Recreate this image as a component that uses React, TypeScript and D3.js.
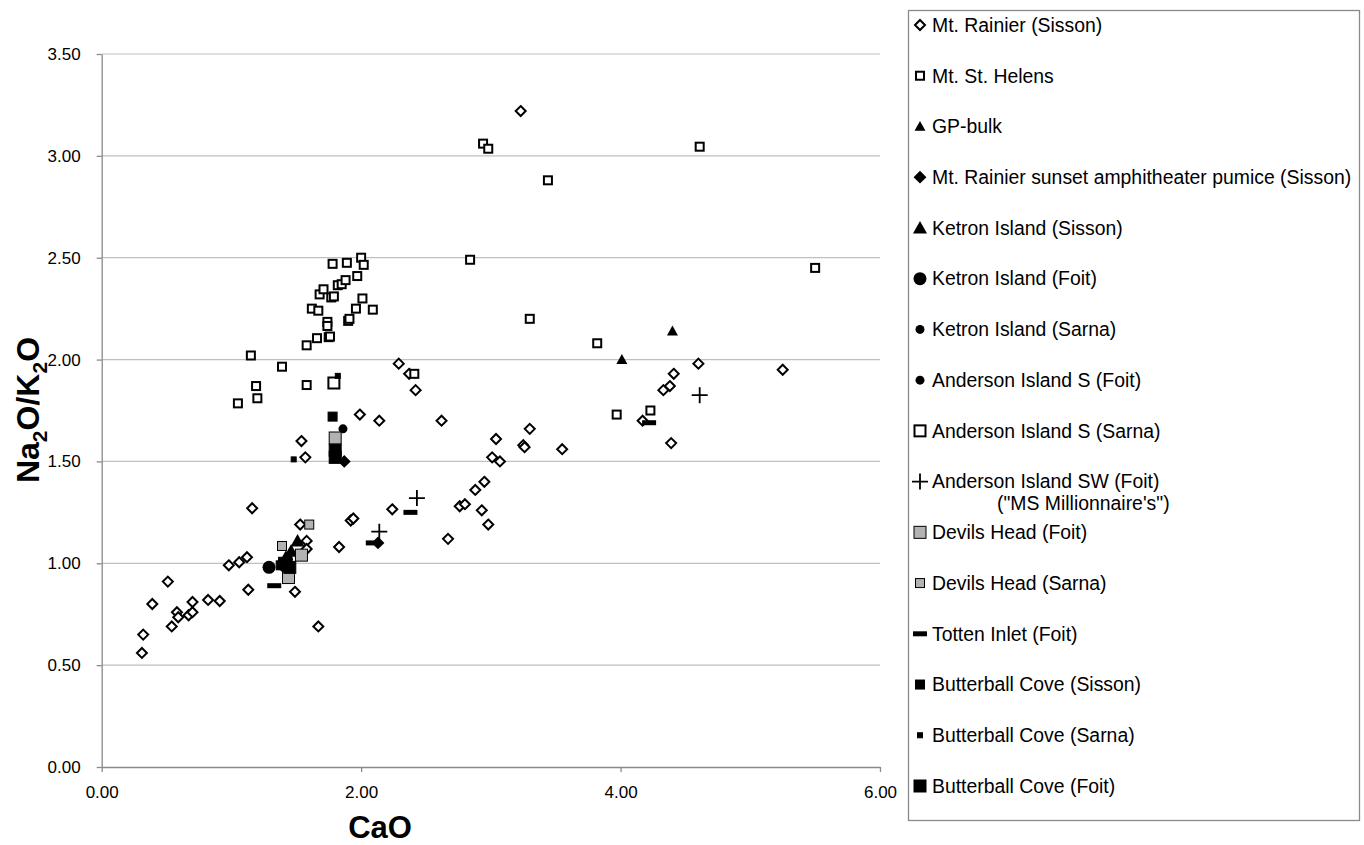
import React, { useEffect, useRef } from "react";
import * as d3 from "d3";

// CaO vs Na2O/K2O, one array of [CaO, ratio] pairs per series
const rainierSisson = [
  [0.31, 0.56], [0.32, 0.65], [0.39, 0.8], [0.51, 0.91], [0.54, 0.69], [0.58, 0.76],
  [0.59, 0.735], [0.67, 0.745], [0.7, 0.76], [0.7, 0.81], [0.82, 0.82], [0.91, 0.815],
  [0.98, 0.99], [1.06, 1.005], [1.12, 1.03], [1.13, 0.87], [1.16, 1.27], [1.53, 1.19],
  [1.49, 0.86], [1.58, 1.11], [1.58, 1.07], [1.54, 1.6], [1.57, 1.52], [1.67, 0.69],
  [1.83, 1.08], [1.92, 1.21], [1.94, 1.22], [1.99, 1.73], [2.14, 1.7], [2.24, 1.265],
  [2.29, 1.98], [2.37, 1.93], [2.42, 1.85], [2.62, 1.7], [2.67, 1.12], [2.76, 1.28],
  [2.8, 1.29], [2.88, 1.36], [2.95, 1.4], [2.93, 1.26], [2.98, 1.19], [3.01, 1.52],
  [3.04, 1.61], [3.07, 1.5], [3.25, 1.58], [3.26, 1.57], [3.3, 1.66], [3.55, 1.56],
  [3.23, 3.22], [4.17, 1.7], [4.33, 1.85], [4.38, 1.87], [4.41, 1.93], [4.39, 1.59],
  [4.6, 1.98], [5.25, 1.95],
];
const stHelens = [
  [1.05, 1.785], [1.15, 2.02], [1.19, 1.87], [1.2, 1.81], [1.39, 1.965], [1.58, 1.875],
  [1.58, 2.07], [1.62, 2.25], [1.66, 2.105], [1.67, 2.24], [1.68, 2.32], [1.71, 2.345],
  [1.74, 2.185], [1.74, 2.165], [1.75, 2.11], [1.76, 2.113], [1.77, 2.305], [1.79, 2.31],
  [1.78, 2.47], [1.82, 2.365], [1.85, 2.37], [1.88, 2.39], [1.89, 2.475], [1.9, 2.19],
  [1.91, 2.2], [1.96, 2.25], [1.97, 2.41], [2.0, 2.5], [2.01, 2.3], [2.02, 2.465],
  [2.09, 2.245], [2.41, 1.93], [2.84, 2.49], [2.94, 3.06], [2.98, 3.035], [3.3, 2.2],
  [3.44, 2.88], [3.82, 2.08], [3.97, 1.73], [4.23, 1.75], [4.61, 3.045], [5.5, 2.45],
];
const gpBulk = [[4.01, 2.0], [4.4, 2.14]];
const sunsetPumice = [[1.87, 1.5], [2.13, 1.1], [1.42, 0.97]];
const ketronSisson = [[1.51, 1.11], [1.42, 1.03], [1.46, 1.06]];
const ketronFoit = [[1.29, 0.98]];
const ketronSarna = [[1.4, 1.0]];
const andersonSFoit = [[1.86, 1.66], [1.44, 1.02]];
const andersonSSarna = [[1.79, 1.885]];
const andersonSWFoit = [[2.14, 1.155], [2.43, 1.32], [4.61, 1.825]];
const devilsFoit = [[1.54, 1.04], [1.44, 0.93], [1.8, 1.615]];
const devilsSarna = [[1.39, 1.085], [1.6, 1.19]];
const tottenFoit = [[1.33, 0.89], [2.09, 1.1], [2.38, 1.25], [4.22, 1.69]];
const butterSisson = [[1.78, 1.72], [1.38, 0.99]];
const butterSarna = [[1.82, 1.92], [1.48, 1.51]];
const butterFoit = [[1.8, 1.555], [1.8, 1.52], [1.41, 1.0], [1.45, 0.98]];

const xTicks = [0, 2, 4, 6];
const yTicks = [0, 0.5, 1, 1.5, 2, 2.5, 3, 3.5];

const series = [
  { name: "Mt. Rainier (Sisson)", data: rainierSisson, shape: "diamond", size: 10, fill: "#fff" },
  { name: "Mt. St. Helens", data: stHelens, shape: "square", size: 10, fill: "#fff" },
  { name: "GP-bulk", data: gpBulk, shape: "triangle", size: 11, fill: "#000" },
  { name: "Mt. Rainier sunset amphitheater pumice (Sisson)", data: sunsetPumice, shape: "diamond", size: 10, fill: "#000" },
  { name: "Ketron Island (Sisson)", data: ketronSisson, shape: "triangle", size: 14, fill: "#000" },
  { name: "Ketron Island (Foit)", data: ketronFoit, shape: "circle", size: 13, fill: "#000" },
  { name: "Ketron Island (Sarna)", data: ketronSarna, shape: "circle", size: 9, fill: "#000" },
  { name: "Anderson Island S (Foit)", data: andersonSFoit, shape: "circle", size: 9, fill: "#000" },
  { name: "Anderson Island S (Sarna)", data: andersonSSarna, shape: "square", size: 13, fill: "#fff" },
  { name: "Anderson Island SW (Foit)", data: andersonSWFoit, shape: "plus", size: 16, fill: "none" },
  { name: "Devils Head (Foit)", data: devilsFoit, shape: "square", size: 13, fill: "#b2b2b2" },
  { name: "Devils Head (Sarna)", data: devilsSarna, shape: "square", size: 10, fill: "#b2b2b2" },
  { name: "Totten Inlet (Foit)", data: tottenFoit, shape: "dash", size: 14, fill: "#000" },
  { name: "Butterball Cove (Sisson)", data: butterSisson, shape: "square", size: 10, fill: "#000" },
  { name: "Butterball Cove (Sarna)", data: butterSarna, shape: "square", size: 6, fill: "#000" },
  { name: "Butterball Cove (Foit)", data: butterFoit, shape: "square", size: 13, fill: "#000" },
];

const drawMarker = (g, s, cx, cy) => {
  const h = s.size / 2;
  if (s.shape === "diamond") {
    g.append("path")
      .attr("d", `M${cx},${cy - h}L${cx + h},${cy}L${cx},${cy + h}L${cx - h},${cy}Z`)
      .attr("fill", s.fill).attr("stroke", "#000").attr("stroke-width", 2);
  } else if (s.shape === "square") {
    const open = s.fill === "#fff";
    g.append("rect")
      .attr("x", cx - h + (open ? 1 : 0.5)).attr("y", cy - h + (open ? 1 : 0.5))
      .attr("width", s.size - (open ? 2 : 1)).attr("height", s.size - (open ? 2 : 1))
      .attr("fill", s.fill).attr("stroke", "#000").attr("stroke-width", open ? 2 : 1);
  } else if (s.shape === "triangle") {
    g.append("path")
      .attr("d", `M${cx},${cy - h}L${cx + h},${cy + h * 0.8}L${cx - h},${cy + h * 0.8}Z`)
      .attr("fill", "#000");
  } else if (s.shape === "circle") {
    g.append("circle").attr("cx", cx).attr("cy", cy).attr("r", h).attr("fill", "#000");
  } else if (s.shape === "plus") {
    g.append("path")
      .attr("d", `M${cx - h},${cy}H${cx + h}M${cx},${cy - h}V${cy + h}`)
      .attr("stroke", "#000").attr("stroke-width", 1.8).attr("fill", "none");
  } else if (s.shape === "dash") {
    g.append("rect").attr("x", cx - h).attr("y", cy - 2.5).attr("width", s.size).attr("height", 5)
      .attr("fill", "#000");
  }
};

const App = () => {
  const ref = useRef(null);

  useEffect(() => {
    document.body.style.margin = "0";
    const svg = d3.select(ref.current);
    svg.selectAll("*").remove();

    const x = d3.scaleLinear().domain([0, 6]).range([101.7, 880]);
    const y = d3.scaleLinear().domain([0, 3.5]).range([767, 54]);
    const font = "'Liberation Sans', Arial, sans-serif";

    // gridlines
    svg.append("g").selectAll("line").data(yTicks.filter((d) => d > 0)).join("line")
      .attr("x1", x(0)).attr("x2", x(6)).attr("y1", (d) => y(d)).attr("y2", (d) => y(d))
      .attr("stroke", "#c0c0c0").attr("stroke-width", 1.2);

    const xAxis = svg.append("g").attr("transform", `translate(0,${y(0)})`)
      .call(d3.axisBottom(x).tickValues(xTicks).tickFormat(d3.format(".2f")).tickSizeInner(5).tickSizeOuter(0).tickPadding(14));
    const yAxis = svg.append("g").attr("transform", `translate(${x(0)},0)`)
      .call(d3.axisLeft(y).tickValues(yTicks).tickFormat(d3.format(".2f")).tickSizeInner(5).tickSizeOuter(0).tickPadding(16));
    [xAxis, yAxis].forEach((a) => {
      a.selectAll("path,line").attr("stroke", "#8a8a8a").attr("stroke-width", 1.3);
      a.selectAll("text").attr("font-family", font).attr("font-size", 17).attr("fill", "#000");
    });

    // axis titles
    svg.append("text").attr("x", 380).attr("y", 838).attr("text-anchor", "middle")
      .attr("font-family", font).attr("font-weight", "bold").attr("font-size", 31).text("CaO");
    const yt = svg.append("text").attr("transform", "translate(39,410) rotate(-90)")
      .attr("text-anchor", "middle").attr("font-family", font).attr("font-weight", "bold").attr("font-size", 32);
    yt.append("tspan").text("Na");
    yt.append("tspan").attr("font-size", 21).attr("dy", 8).text("2");
    yt.append("tspan").attr("dy", -8).text("O/K");
    yt.append("tspan").attr("font-size", 21).attr("dy", 8).text("2");
    yt.append("tspan").attr("dy", -8).text("O");

    // points
    const pts = svg.append("g");
    series.forEach((s) => {
      s.data.forEach(([cx, cy]) => drawMarker(pts, s, x(cx), y(cy)));
    });

    // legend
    const lg = svg.append("g");
    lg.append("rect").attr("x", 908.5).attr("y", 10.5).attr("width", 451).attr("height", 810)
      .attr("fill", "#fff").attr("stroke", "#8a8a8a").attr("stroke-width", 1.3);
    const ly = d3.scaleLinear().domain([0, series.length - 1]).range([25, 786]);
    series.forEach((s, i) => {
      drawMarker(lg, s, 920, ly(i));
      lg.append("text").attr("x", 932).attr("y", ly(i)).attr("dy", "0.35em")
        .attr("font-family", font).attr("font-size", 19.4).text(s.name);
    });
    lg.append("text").attr("x", 997).attr("y", ly(9) + 22).attr("dy", "0.35em")
      .attr("font-family", font).attr("font-size", 19.4).text('("MS Millionnaire\'s")');
  }, []);

  return <svg ref={ref} width={1364} height={845} style={{ display: "block", background: "#fff" }} />;
};

export default App;
